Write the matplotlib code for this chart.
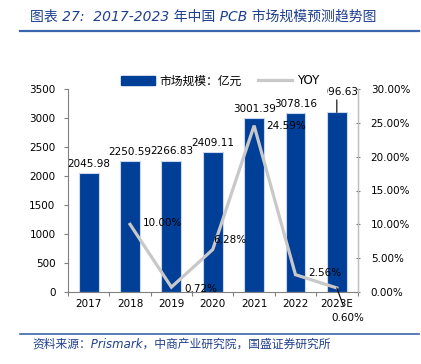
import matplotlib
matplotlib.use("Agg")
import matplotlib.pyplot as plt
from matplotlib.lines import Line2D
from matplotlib.patches import Patch

plt.rcParams['font.family'] = ['DejaVu Sans', 'Noto Sans CJK SC']

years = ["2017", "2018", "2019", "2020", "2021", "2022", "2023E"]
market = [2045.98, 2250.59, 2266.83, 2409.11, 3001.39, 3078.16, 3096.63]
yoy_years_idx = [1, 2, 3, 4, 5, 6]
yoy = [10.00, 0.72, 6.28, 24.59, 2.56, 0.60]

bar_color = "#003F98"
line_color = "#C8C8C8"
txt_blue = "#1F3F8F"

fig = plt.figure(figsize=(4.21, 3.64), dpi=100)
ax = fig.add_axes([68/421, 1-292/364, (357.5-68)/421, (292-89)/364])
ax2 = ax.twinx()

x = list(range(len(years)))
ax.bar(x, market, width=0.48, color=bar_color, edgecolor="#C9D6EE", linewidth=0.8, zorder=2)
ax.set_xlim(-0.5, 6.5)
ax.set_ylim(0, 3500)
ax.set_yticks(range(0, 3501, 500))
ax2.set_ylim(0, 30)
ax2.set_yticks(range(0, 31, 5))
ax2.set_yticklabels([f"{v:.2f}%" for v in range(0, 31, 5)])

# x ticks at boundaries, labels at centers
ax.set_xticks([i + 0.5 for i in range(-1, 7)])
ax.set_xticklabels([])
ax.set_xticks(x, minor=True)
ax.set_xticklabels(years, minor=True)
ax.tick_params(axis='x', which='major', length=3, direction='out', color='#808080')
ax.tick_params(axis='x', which='minor', length=0, labelsize=7.5, pad=5)
ax.tick_params(axis='y', length=3, direction='out', labelsize=7.5, color='#808080', pad=6)
ax2.tick_params(axis='y', length=3, direction='inout', labelsize=7.5, color='#808080', pad=8)

for a in (ax, ax2):
    a.spines['top'].set_visible(False)
ax.spines['left'].set_color('#808080')
ax.spines['bottom'].set_color('#808080')
ax2.spines['right'].set_color('#BFBFBF')
ax2.spines['left'].set_visible(False)
ax2.spines['bottom'].set_visible(False)

# bar labels
for i, v in enumerate(market):
    if i < 6:
        ax.annotate(f"{v:.2f}", (i, v), xytext=(0, 3), textcoords='offset points',
                    ha='center', va='bottom', fontsize=7.5, zorder=3)
    else:
        ax.annotate(f"{v:.2f}", (i, v), xytext=(0, 11), textcoords='offset points',
                    ha='center', va='bottom', fontsize=7.5, zorder=3,
                    arrowprops=dict(arrowstyle='-', color='black', lw=0.8, shrinkA=0, shrinkB=0))

# YOY line
ax2.plot(yoy_years_idx, yoy, color=line_color, lw=2.3, zorder=3, solid_joinstyle='miter')
offsets = [(9, 1), (9, -1), (0, 7), (9, 0), (9, 1), None]
for xi, v, off in zip(yoy_years_idx, yoy, offsets):
    if off is None:
        ax2.annotate(f"{v:.2f}%", (xi, v), xytext=(8, -22), textcoords='offset points',
                     ha='center', va='center', fontsize=7.5,
                     arrowprops=dict(arrowstyle='-', color='black', lw=0.8, shrinkA=4, shrinkB=0))
    else:
        ax2.annotate(f"{v:.2f}%", (xi, v), xytext=off, textcoords='offset points',
                     ha='left', va='center', fontsize=7.5)

handles = [Patch(facecolor=bar_color, edgecolor=bar_color),
           Line2D([0], [0], color=line_color, lw=2.3)]
leg = ax2.legend(handles, ["市场规模：亿元", "YOY"], ncol=2, loc='center',
                 bbox_to_anchor=(220/421, 1-81/364), bbox_transform=fig.transFigure,
                 frameon=True, framealpha=1, edgecolor='none', facecolor='white',
                 fontsize=8.5, handlelength=2.9, handleheight=0.9, columnspacing=1.4,
                 handletextpad=0.4, borderpad=0.65, borderaxespad=0, fancybox=False)
leg.set_zorder(10)

# title & footer
fig.text(30/421, 1-16.5/364, "图表 27:  2017-2023 年中国 PCB 市场规模预测趋势图",
         fontsize=10, style='italic', color=txt_blue, ha='left', va='center')
fig.add_artist(Line2D([20/421, 419/421], [1-31/364, 1-31/364], color="#3A66AE", lw=1.6))
fig.add_artist(Line2D([20/421, 419/421], [1-334/364, 1-334/364], color="#3A66AE", lw=1.2))
fig.text(32/421, 1-344/364, "资料来源：Prismark，中商产业研究院，国盛证券研究所",
         fontsize=8.5, style='italic', color=txt_blue, ha='left', va='center')

fig.savefig("out.png", dpi=100)
